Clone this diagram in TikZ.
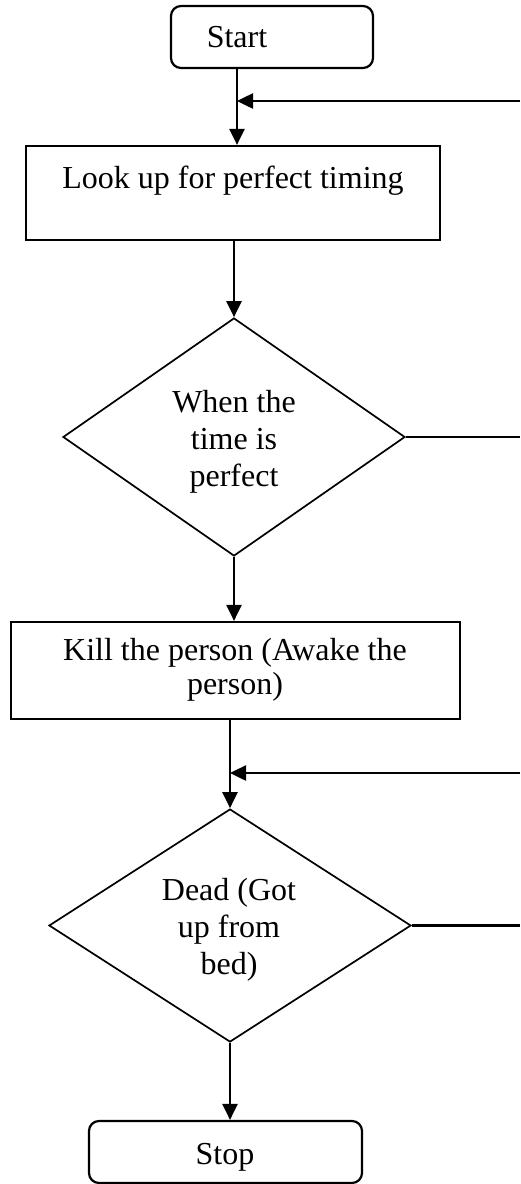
\documentclass[tikz,border=0pt]{standalone}
\usepackage{fontspec}
\setmainfont{Liberation Serif}
\usetikzlibrary{shapes.geometric,arrows.meta}
\begin{document}
\begin{tikzpicture}[x=1pt,y=-1pt,
  txt/.style={font=\fontsize{32}{37}\selectfont, inner sep=0pt, align=center},
  termbox/.style={draw, line width=2.2pt, rounded corners=10pt, inner sep=0pt},
  procbox/.style={draw, line width=2.2pt, inner sep=0pt},
  decbox/.style={draw, diamond, line width=1.7pt, inner sep=0pt},
  arr/.style={line width=2.5pt, -{Triangle[length=16pt,width=15pt]}},
  ln/.style={line width=2.5pt}]
\fill[white] (0,0) rectangle (520,1184);
\useasboundingbox (0,0) rectangle (520,1184);

\node[termbox, minimum width=202pt, minimum height=62pt] (start) at (272,37) {};
\node[txt] (startt) at (237,37) {Start};

\node[procbox, minimum width=414pt, minimum height=94pt] (b2) at (233,193) {};
\node[txt] (b2t) at (233,180.5) {Look up for perfect timing};

\node[decbox, minimum width=342pt, minimum height=238pt] (d1) at (234,437) {};
\node[txt] (d1t) at (234,442) {When the\\time is\\perfect};

\node[procbox, minimum width=449pt, minimum height=97pt] (b3) at (235.5,670.5) {};
\node[txt, font=\fontsize{32}{34}\selectfont] (b3t) at (235,670) {Kill the person (Awake the\\person)};

\node[decbox, minimum width=362pt, minimum height=233pt] (d2) at (230,925.5) {};
\node[txt] (d2t) at (229,930) {Dead (Got\\up from\\bed)};

\node[termbox, minimum width=273pt, minimum height=62pt] (stop) at (225.5,1152) {};
\node[txt] (stopt) at (225,1157) {Stop};

\coordinate (r1) at (520,101);
\coordinate (r3) at (520,773);

\draw[arr] (start.south -| startt) -- (b2.north -| startt);
\draw[arr] (r1) -- (r1 -| startt);
\draw[arr] (b2.south -| d1.north) -- (d1.north);
\draw[ln] (d1.east) -- (d1.east -| r1);
\draw[arr] (d1.south) -- (d1.south |- b3.north);
\draw[arr] (b3.south -| d2.north) -- (d2.north);
\draw[arr] (r3) -- (r3 -| d2.north);
\draw[ln] (d2.east) -- (d2.east -| r1);
\draw[arr] (d2.south) -- (d2.south |- stop.north);
\end{tikzpicture}
\end{document}
